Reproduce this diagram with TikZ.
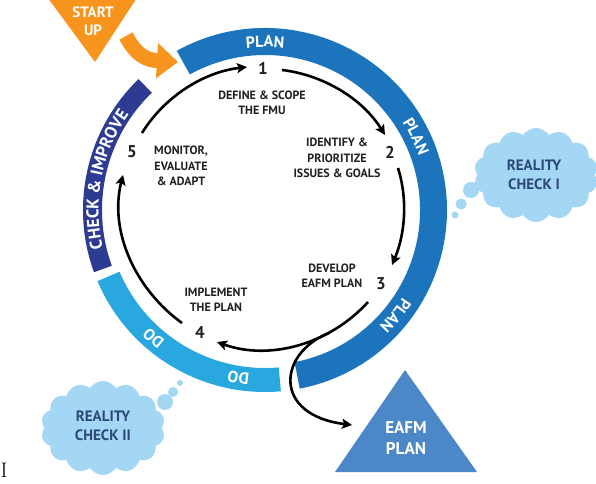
\documentclass[tikz,border=0pt]{standalone}
\usepackage{fontspec}
\newfontfamily\ptsans{PT Sans}
\usetikzlibrary{arrows.meta,calc,decorations.text,shapes.symbols}
\definecolor{planblue}{HTML}{1C75BC}
\definecolor{checkblue}{HTML}{2E3B92}
\definecolor{doblue}{HTML}{29A8E0}
\definecolor{cloudc}{HTML}{A3D7F3}
\definecolor{cloudtxt}{HTML}{2B4878}
\definecolor{tricol}{HTML}{4C87C7}
\definecolor{orng}{HTML}{F7941D}
\definecolor{labtxt}{HTML}{231F20}
\newcommand\ringfont{\ptsans\bfseries\fontsize{16}{16}\selectfont}
\newcommand\chkfont{\ptsans\bfseries\fontsize{17}{17}\selectfont}
\tikzset{
  lbl/.style={font=\ptsans\bfseries\fontsize{12}{15.5}\selectfont, align=center, text=labtxt, inner sep=0pt},
  num/.style={font=\ptsans\bfseries\fontsize{17}{17}\selectfont, inner sep=0pt, text=labtxt},
  arr/.style={line width=2.6pt, draw=black, -{Stealth[length=10pt,width=10pt,inset=2pt]}},
  cloudlbl/.style={font=\ptsans\bfseries\fontsize{15}{19}\selectfont, align=center, text=cloudtxt, inner sep=0pt},
  cloudbox/.style={cloud, cloud puffs=14, cloud puff arc=115, aspect=1.35, fill=cloudc, draw=none, inner sep=0pt},
  bubble/.style={circle, fill=cloudc, draw=none, inner sep=0pt},
  whitelbl/.style={font=\ptsans\bfseries\fontsize{16}{21}\selectfont, align=center, text=white, inner sep=0pt},
  ringtext/.style={decorate, decoration={text along path, text color=white, text align=center, text={#1}}}
}
\begin{document}
\begin{tikzpicture}[x=1pt,y=1pt]
\useasboundingbox (0,0) rectangle (596,483);
\fill[white] (0,0) rectangle (596,483);
\clip (0,0) rectangle (596,483);
\coordinate (C) at (265,273);

% ring bands
\fill[planblue] ($(C)+(119:182)$) arc[start angle=119,end angle=-79,radius=182]
  -- ($(C)+(-79:155)$) arc[start angle=-79,end angle=119,radius=155] -- cycle;
\fill[checkblue] ($(C)+(200:182)$) arc[start angle=200,end angle=134,radius=182]
  -- ($(C)+(134:163)$) arc[start angle=134,end angle=200,radius=163] -- cycle;
\fill[doblue] ($(C)+(275:182)$) arc[start angle=275,end angle=203,radius=182]
  -- ($(C)+(203:158)$) arc[start angle=203,end angle=275,radius=158] -- cycle;

% ring labels
\path[ringtext={|\ringfont|PLAN}] ($(C)+(110:163)$) arc[start angle=110,end angle=70,radius=163];
\path[ringtext={|\ringfont|PLAN}] ($(C)+(46:163)$) arc[start angle=46,end angle=6,radius=163];
\path[ringtext={|\ringfont|PLAN}] ($(C)+(-19:163)$) arc[start angle=-19,end angle=-59,radius=163];
\path[ringtext={|\chkfont|CHECK {\&} IMPROVE}] ($(C)+(215:166.5)$) arc[start angle=215,end angle=123,radius=166.5];
\path[ringtext={|\ringfont|DO}] ($(C)+(249:164.5)$) arc[start angle=249,end angle=209,radius=164.5];
\path[ringtext={|\ringfont|DO}] ($(C)+(281:164.5)$) arc[start angle=281,end angle=241,radius=164.5];

% start up
\fill[orng] (42,493) -- (142,493) -- (95,421) -- cycle;
\node[whitelbl, font=\ptsans\bfseries\fontsize{15}{18}\selectfont] (start) at (93,462) {START\\UP};
\coordinate (os) at (126,447);
\coordinate (oe) at (178,421);
\draw[orng, line width=15pt, -{Triangle[length=21pt,width=34pt]}] (os) .. controls (136,428) and (146,423) .. (oe);

% numbers
\node[num] (n1) at (263,415) {1};
\node[num] (n2) at (390,331) {2};
\node[num] (n3) at (381,199) {3};
\node[num] (n4) at (200,150) {4};
\node[num] (n5) at (132,331) {5};

% step labels
\node[lbl] (l1) at (262,380) {DEFINE \& SCOPE\\THE FMU};
\node[lbl] (l2) at (337,325) {IDENTIFY \&\\PRIORITIZE\\ISSUES \& GOALS};
\node[lbl] (l3) at (332,207.5) {DEVELOP\\EAFM PLAN};
\node[lbl] (l4) at (216,183) {IMPLEMENT\\THE PLAN};
\node[lbl] (l5) at (181,317) {MONITOR,\\EVALUATE\\\& ADAPT};

% EAFM plan triangle
\fill[tricol] (405,113) -- (477,11) -- (335,11) -- cycle;
\node[whitelbl, font=\ptsans\bfseries\fontsize{17}{21}\selectfont] (eafm) at (406,44.5) {EAFM\\PLAN};

% cycle arrows
\draw[arr] ($(n5)+(10,19)$) .. controls (165,387) and (204,411) .. ($(n1)+(-16,1)$);
\draw[arr] ($(n1)+(19,-2)$) .. controls (324,408) and (362.5,384) .. ($(n2)+(-5,17)$);
\draw[arr] ($(n2)+(8,-16)$) .. controls (408,283) and (405,249) .. ($(n3)+(11,19)$);
\draw[arr] ($(n3)+(-13,-18)$) .. controls (330,139) and (270,122) .. ($(n4)+(17,-9)$);
\draw[arr] ($(n4)+(-18,10)$) .. controls (135,194) and (109,252) .. ($(n5)+(-9,-23)$);
\coordinate (br) at (329,150);
\draw[arr] (br) .. controls (278,130) and (272,68) .. ($(eafm)+(-54,13.5)$);

% reality check clouds
\node[cloudbox, minimum width=124pt, minimum height=94pt] (rc1) at (536,308) {};
\node[cloudlbl] (rc1t) at (534,308) {REALITY\\CHECK I};
\node[bubble, minimum size=16pt] (b11) at (471,293) {};
\node[bubble, minimum size=11pt] (b12) at (461,279) {};
\node[bubble, minimum size=7pt] (b13) at (455,268) {};

\node[cloudbox, minimum width=124pt, minimum height=94pt] (rc2) at (103,55) {};
\node[cloudlbl] (rc2t) at (103,57) {REALITY\\CHECK II};
\node[bubble, minimum size=16pt] (b21) at (165,81) {};
\node[bubble, minimum size=10pt] (b22) at (173,91) {};
\node[bubble, minimum size=6pt] (b23) at (180,100) {};

% stray letter
\node[inner sep=0pt, font=\fontsize{21}{21}\selectfont] (stray) at (4,13) {I};
\end{tikzpicture}
\end{document}
